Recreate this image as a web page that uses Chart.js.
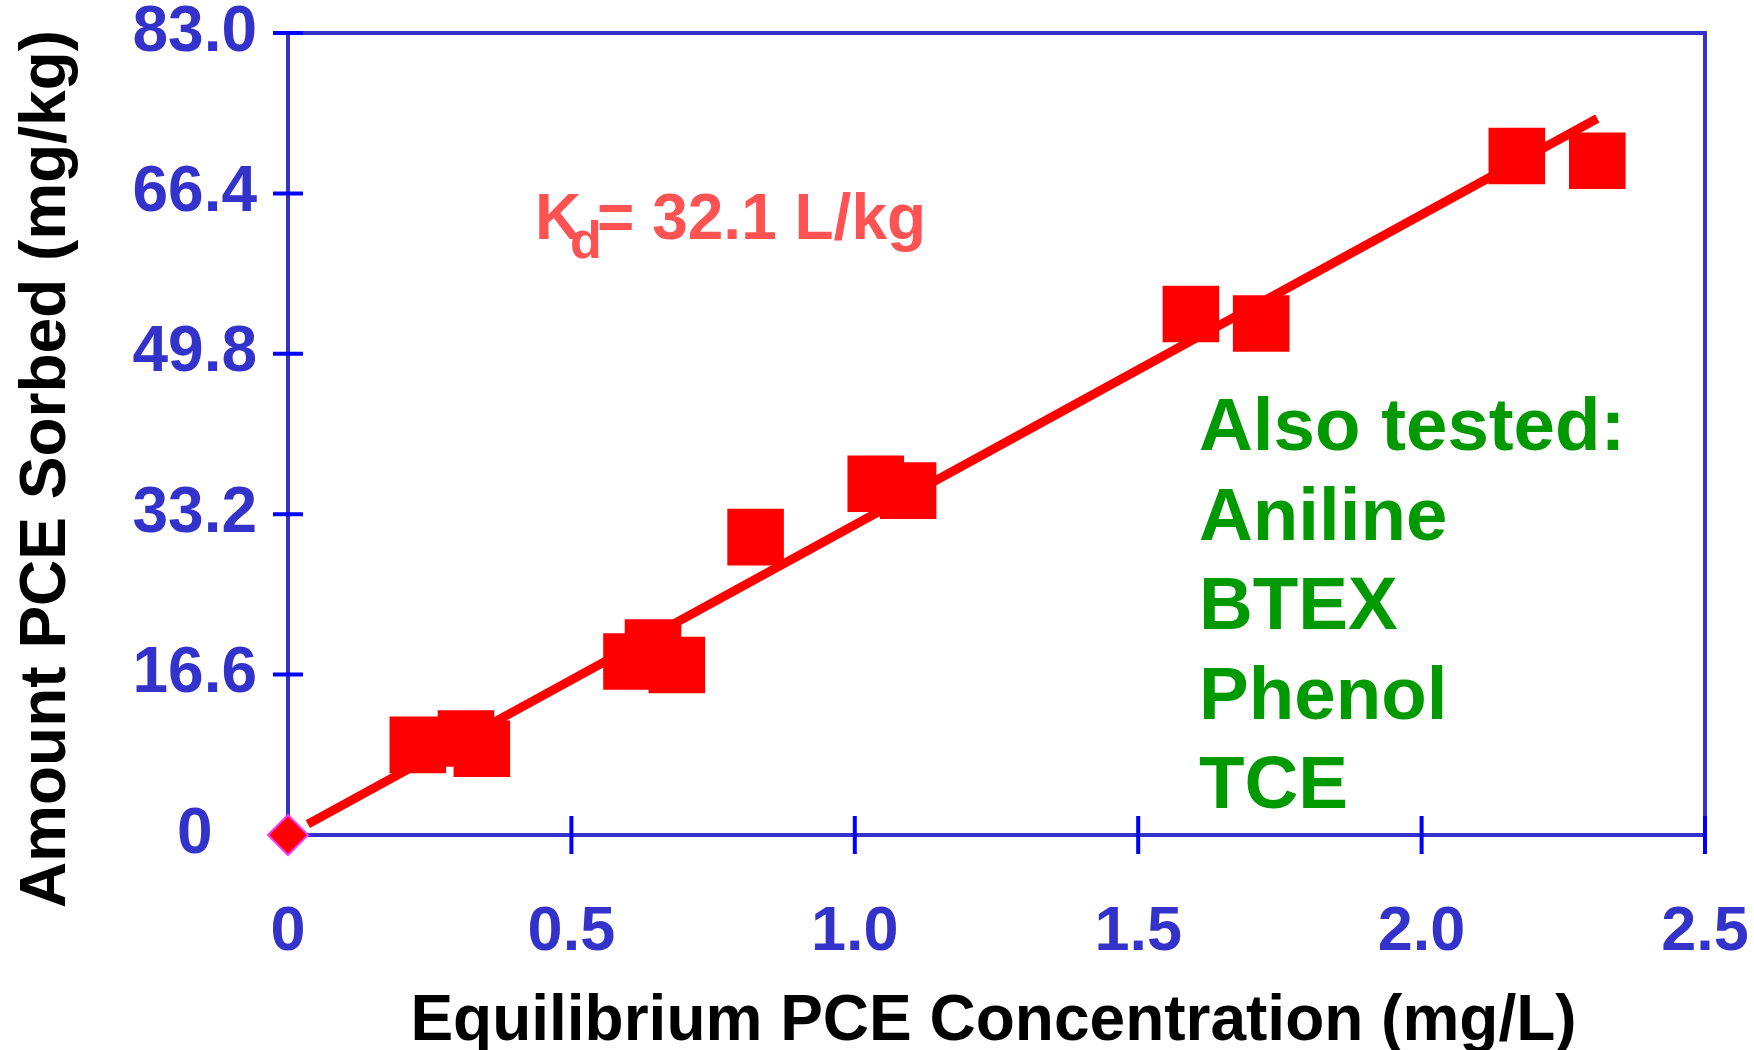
<!DOCTYPE html>
<html>
<head>
<meta charset="utf-8">
<title>PCE sorption isotherm</title>
<script src="https://cdn.jsdelivr.net/npm/chart.js@4/dist/chart.umd.min.js"></script>
<style>
  html, body { margin: 0; padding: 0; background: #ffffff; }
  #wrap { width: 1754px; height: 1050px; }
</style>
</head>
<body>
<div id="wrap"><canvas id="chart" width="1754" height="1050"></canvas></div>
<script>
// Equilibrium PCE concentration (mg/L) and amount sorbed (mg/kg)
const concX = [0.229, 0.314, 0.342, 0.606, 0.644, 0.686, 0.825, 1.037, 1.094, 1.593, 1.717, 2.168, 2.310];
const sorbY = [9.33, 9.98, 8.93, 17.95, 19.40, 17.59, 30.83, 36.36, 35.64, 53.92, 52.94, 70.27, 69.78];

// Linear isotherm: sorbed = Kd * concentration
const kd = 32.1;
const fitRange = [0.035, 2.31];

// Axis ticks
const xTicks = [0, 0.5, 1.0, 1.5, 2.0, 2.5];
const xTickLabels = ['0', '0.5', '1.0', '1.5', '2.0', '2.5'];
const yTicks = [0, 16.6, 33.2, 49.8, 66.4, 83.0];
const yTickLabels = ['0', '16.6', '33.2', '49.8', '66.4', '83.0'];

const otherCompounds = ['Also tested:', 'Aniline', 'BTEX', 'Phenol', 'TCE'];

const FONT = '"Liberation Sans", Arial, Helvetica, sans-serif';
const AXIS_BLUE = '#3333cc';
const TICK_BLUE = '#0000ff';

const points = concX.map((x, i) => ({ x: x, y: sorbY[i] }));
const fitLine = fitRange.map(x => ({ x: x, y: kd * x }));

// Frame (top/right), crossing tick marks, titles and annotations
const decorations = {
  id: 'decorations',
  beforeDatasetsDraw(chart) {
    const { ctx, chartArea: a, scales } = chart;
    ctx.save();
    ctx.strokeStyle = AXIS_BLUE;
    ctx.lineWidth = 4;
    ctx.beginPath();
    ctx.moveTo(a.left, a.top);
    ctx.lineTo(a.right, a.top);
    ctx.lineTo(a.right, a.bottom);
    ctx.stroke();

    ctx.strokeStyle = TICK_BLUE;
    ctx.lineWidth = 4;
    ctx.beginPath();
    xTicks.forEach(v => {
      const px = scales.x.getPixelForValue(v);
      ctx.moveTo(px, a.bottom - 19);
      ctx.lineTo(px, a.bottom + 19);
    });
    yTicks.forEach(v => {
      const py = scales.y.getPixelForValue(v);
      ctx.moveTo(a.left - 15, py);
      ctx.lineTo(a.left + 15, py);
    });
    ctx.stroke();
    ctx.restore();
  },
  afterDraw(chart) {
    const { ctx, chartArea: a } = chart;
    ctx.save();

    // Axis titles
    ctx.fillStyle = '#000000';
    ctx.font = 'bold 64px ' + FONT;
    ctx.textAlign = 'center';
    ctx.textBaseline = 'alphabetic';
    ctx.fillText('Equilibrium PCE Concentration (mg/L)', (a.left + a.right) / 2 - 3, 1040);

    ctx.translate(65, 469);
    ctx.rotate(-Math.PI / 2);
    ctx.fillText('Amount PCE Sorbed (mg/kg)', 0, 0);
    ctx.setTransform(1, 0, 0, 1, 0, 0);

    // Partition coefficient label
    ctx.fillStyle = '#ff5252';
    ctx.textAlign = 'left';
    ctx.font = 'bold 64px ' + FONT;
    ctx.fillText('K', 535, 239);
    ctx.font = 'bold 52px ' + FONT;
    ctx.fillText('d', 570, 258);
    ctx.font = 'bold 64px ' + FONT;
    ctx.fillText('= 32.1 L/kg', 597, 239);

    // Other compounds tested
    ctx.fillStyle = '#009900';
    ctx.font = 'bold 74.5px ' + FONT;
    otherCompounds.forEach((t, i) => {
      ctx.fillText(t, 1199, 450 + i * 89.5);
    });
    ctx.restore();
  }
};

new Chart(document.getElementById('chart'), {
  type: 'scatter',
  data: {
    datasets: [
      {
        label: 'Origin',
        data: [{ x: 0, y: 0 }],
        pointStyle: 'rectRot',
        pointRadius: 20,
        backgroundColor: '#ff0000',
        borderColor: '#ff33ff',
        borderWidth: 2,
        clip: false,
        order: 0
      },
      {
        label: 'PCE sorbed',
        data: points,
        pointStyle: 'rect',
        pointRadius: 40,
        backgroundColor: '#ff0000',
        borderWidth: 0,
        order: 1
      },
      {
        type: 'line',
        label: 'Linear fit',
        data: fitLine,
        borderColor: '#ff0000',
        borderWidth: 9,
        borderCapStyle: 'butt',
        pointRadius: 0,
        fill: false,
        order: 2
      }
    ]
  },
  options: {
    responsive: false,
    animation: false,
    events: [],
    layout: { autoPadding: false, padding: { left: 0, right: 49, top: 33, bottom: 0 } },
    plugins: {
      legend: { display: false },
      tooltip: { enabled: false }
    },
    scales: {
      x: {
        type: 'linear',
        min: 0,
        max: 2.5,
        grid: { display: false },
        border: { display: true, color: AXIS_BLUE, width: 4 },
        afterBuildTicks: s => { s.ticks = xTicks.map(v => ({ value: v })); },
        afterFit: s => { s.height = 215; s.paddingLeft = 0; s.paddingRight = 0; },
        ticks: {
          autoSkip: false,
          maxRotation: 0,
          padding: 58,
          color: AXIS_BLUE,
          font: { family: FONT, size: 63, weight: 'bold', lineHeight: 1 },
          callback: (v, i) => xTickLabels[i]
        }
      },
      y: {
        type: 'linear',
        min: 0,
        max: 83,
        grid: { display: false },
        border: { display: true, color: AXIS_BLUE, width: 4 },
        afterBuildTicks: s => { s.ticks = yTicks.map(v => ({ value: v })); },
        afterFit: s => { s.width = 288; s.paddingTop = 0; s.paddingBottom = 0; },
        ticks: {
          autoSkip: false,
          crossAlign: 'center',
          padding: 23,
          color: AXIS_BLUE,
          font: { family: FONT, size: 64, weight: 'bold', lineHeight: 1 },
          callback: (v, i) => yTickLabels[i]
        }
      }
    }
  },
  plugins: [decorations]
});
</script>
</body>
</html>
